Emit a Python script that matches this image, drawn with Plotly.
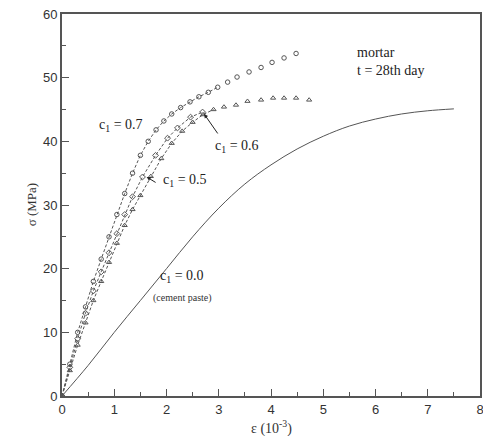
import plotly.graph_objects as go

# strain (1e-3) and stress (MPa)
x_c07 = [0, 0.15, 0.3, 0.45, 0.6, 0.75, 0.9, 1.05, 1.2, 1.35, 1.5, 1.65, 1.8, 1.95, 2.1, 2.27, 2.45, 2.62, 2.8, 2.98, 3.17, 3.35, 3.58, 3.81, 4.02, 4.25, 4.48]
y_c07 = [0, 5, 10, 14, 18, 21.5, 25, 28.5, 31.8, 35, 37.8, 40, 41.8, 43.2, 44.3, 45.3, 46.2, 47, 47.7, 48.5, 49.3, 50.1, 50.9, 51.6, 52.4, 53.1, 53.8]

x_c06 = [0, 0.15, 0.3, 0.45, 0.6, 0.75, 0.9, 1.05, 1.2, 1.35, 1.54, 1.79, 2.02, 2.21, 2.46, 2.69]
y_c06 = [0, 4.5, 9, 13, 16.5, 19.5, 22.5, 25.5, 28.5, 31.3, 34.4, 37.8, 40.5, 42.1, 43.8, 44.6]

x_c05 = [0, 0.15, 0.3, 0.45, 0.6, 0.75, 0.9, 1.05, 1.2, 1.35, 1.5, 1.7, 1.9, 2.1, 2.3, 2.5, 2.7, 2.9, 3.1, 3.33, 3.55, 3.81, 4.04, 4.25, 4.48, 4.73]
y_c05 = [0, 4, 8, 11.5, 15, 18, 21, 24, 26.8, 29.3, 31.5, 34.5, 37.3, 39.7, 41.6, 43, 44.2, 45, 45.4, 45.7, 46.3, 46.5, 46.8, 46.8, 46.8, 46.5]

x_c00 = [0, 0.5, 1, 1.5, 2, 2.5, 3, 3.5, 4, 4.5, 5, 5.5, 6, 6.5, 7, 7.5]
y_c00 = [0, 4.8, 10, 15, 20, 25, 29.5, 33.3, 36.3, 38.8, 40.8, 42.4, 43.5, 44.3, 44.8, 45.1]

LINE_END = 3.0  # model curves drawn up to this strain
GRAY = "#555555"
SERIF = "Liberation Serif, Times New Roman, serif"
SANS = "Liberation Sans, Arial, sans-serif"

fig = go.Figure()

def add_series(xs, ys, symbol):
    lx = [a for a in xs if a <= LINE_END]
    ly = ys[:len(lx)]
    fig.add_trace(go.Scatter(x=lx, y=ly, mode="lines",
                             line=dict(color=GRAY, width=1, dash="3px,2px"),
                             showlegend=False, hoverinfo="skip"))
    fig.add_trace(go.Scatter(x=xs, y=ys, mode="markers",
                             marker=dict(symbol=symbol, size=4.5, color=GRAY,
                                         line=dict(color=GRAY, width=1)),
                             showlegend=False))

add_series(x_c07, y_c07, "circle-open")
add_series(x_c06, y_c06, "diamond-open")
add_series(x_c05, y_c05, "triangle-up-open")

fig.add_trace(go.Scatter(x=x_c00, y=y_c00, mode="lines", line_shape="spline",
                         line=dict(color=GRAY, width=1), showlegend=False))

ann_font = dict(family=SERIF, size=14, color="#222")
annotations = [
    dict(x=1.13, y=42.5, text="c<sub>1</sub> = 0.7", showarrow=False, font=ann_font),
    dict(x=3.35, y=39.2, text="c<sub>1</sub> = 0.6", showarrow=False, font=ann_font),
    dict(x=2.35, y=33.8, text="c<sub>1</sub> = 0.5", showarrow=False, font=ann_font),
    dict(x=2.3, y=18.8, text="c<sub>1</sub> = 0.0", showarrow=False, font=ann_font),
    dict(x=2.3, y=15.4, text="(cement paste)", showarrow=False,
         font=dict(family=SERIF, size=10, color="#333")),
    dict(x=5.6, y=54.0, text="mortar", showarrow=False, xanchor="left",
         font=ann_font),
    dict(x=5.6, y=51.2, text="t = 28th day", showarrow=False, xanchor="left",
         font=ann_font),
    # axis titles
    dict(x=0.5, y=-0.082, xref="paper", yref="paper", text="ε (10<sup>-3</sup>)",
         showarrow=False, yanchor="middle",
         font=dict(family=SERIF, size=14, color="#333")),
    dict(x=-0.096, y=0.5, xref="paper", yref="paper", text="σ (MPa)", textangle=-90,
         showarrow=False, font=dict(family=SERIF, size=13, color="#333")),
    # arrows
    dict(x=2.72, y=44.3, ax=3.0, ay=41.0, xref="x", yref="y",
         axref="x", ayref="y", text="", showarrow=True,
         arrowhead=2, arrowsize=0.8, arrowwidth=1, arrowcolor="#222"),
    dict(x=1.62, y=34.4, ax=1.82, ay=33.4, xref="x", yref="y",
         axref="x", ayref="y", text="", showarrow=True,
         arrowhead=2, arrowsize=0.8, arrowwidth=1, arrowcolor="#222"),
]

fig.update_layout(
    width=483, height=436,
    margin=dict(l=62, r=3, t=14, b=40, autoexpand=False),
    paper_bgcolor="white", plot_bgcolor="white",
    annotations=annotations,
    xaxis=dict(range=[0, 8], dtick=1, ticks="inside", ticklen=7, tickwidth=1,
               tickcolor=GRAY, showline=True, linecolor=GRAY, linewidth=2,
               mirror=True, showgrid=False, zeroline=False, automargin=False,
               ticklabeloverflow="allow",
               minor=dict(dtick=0.5, ticks="inside", ticklen=4, tickcolor=GRAY),
               tickfont=dict(family=SANS, size=13, color="#333")),
    yaxis=dict(range=[0, 60], dtick=10, ticks="inside", ticklen=7, tickwidth=1,
               tickcolor=GRAY, showline=True, linecolor=GRAY, linewidth=2,
               mirror=True, showgrid=False, zeroline=False, automargin=False,
               ticklabeloverflow="allow",
               minor=dict(dtick=5, ticks="inside", ticklen=4, tickcolor=GRAY),
               tickfont=dict(family=SANS, size=13, color="#333")),
)

fig.write_html("out.html",
               config={"displayModeBar": False},
               post_script="document.body.style.margin='0';"
                           "document.body.style.overflow='hidden';")
